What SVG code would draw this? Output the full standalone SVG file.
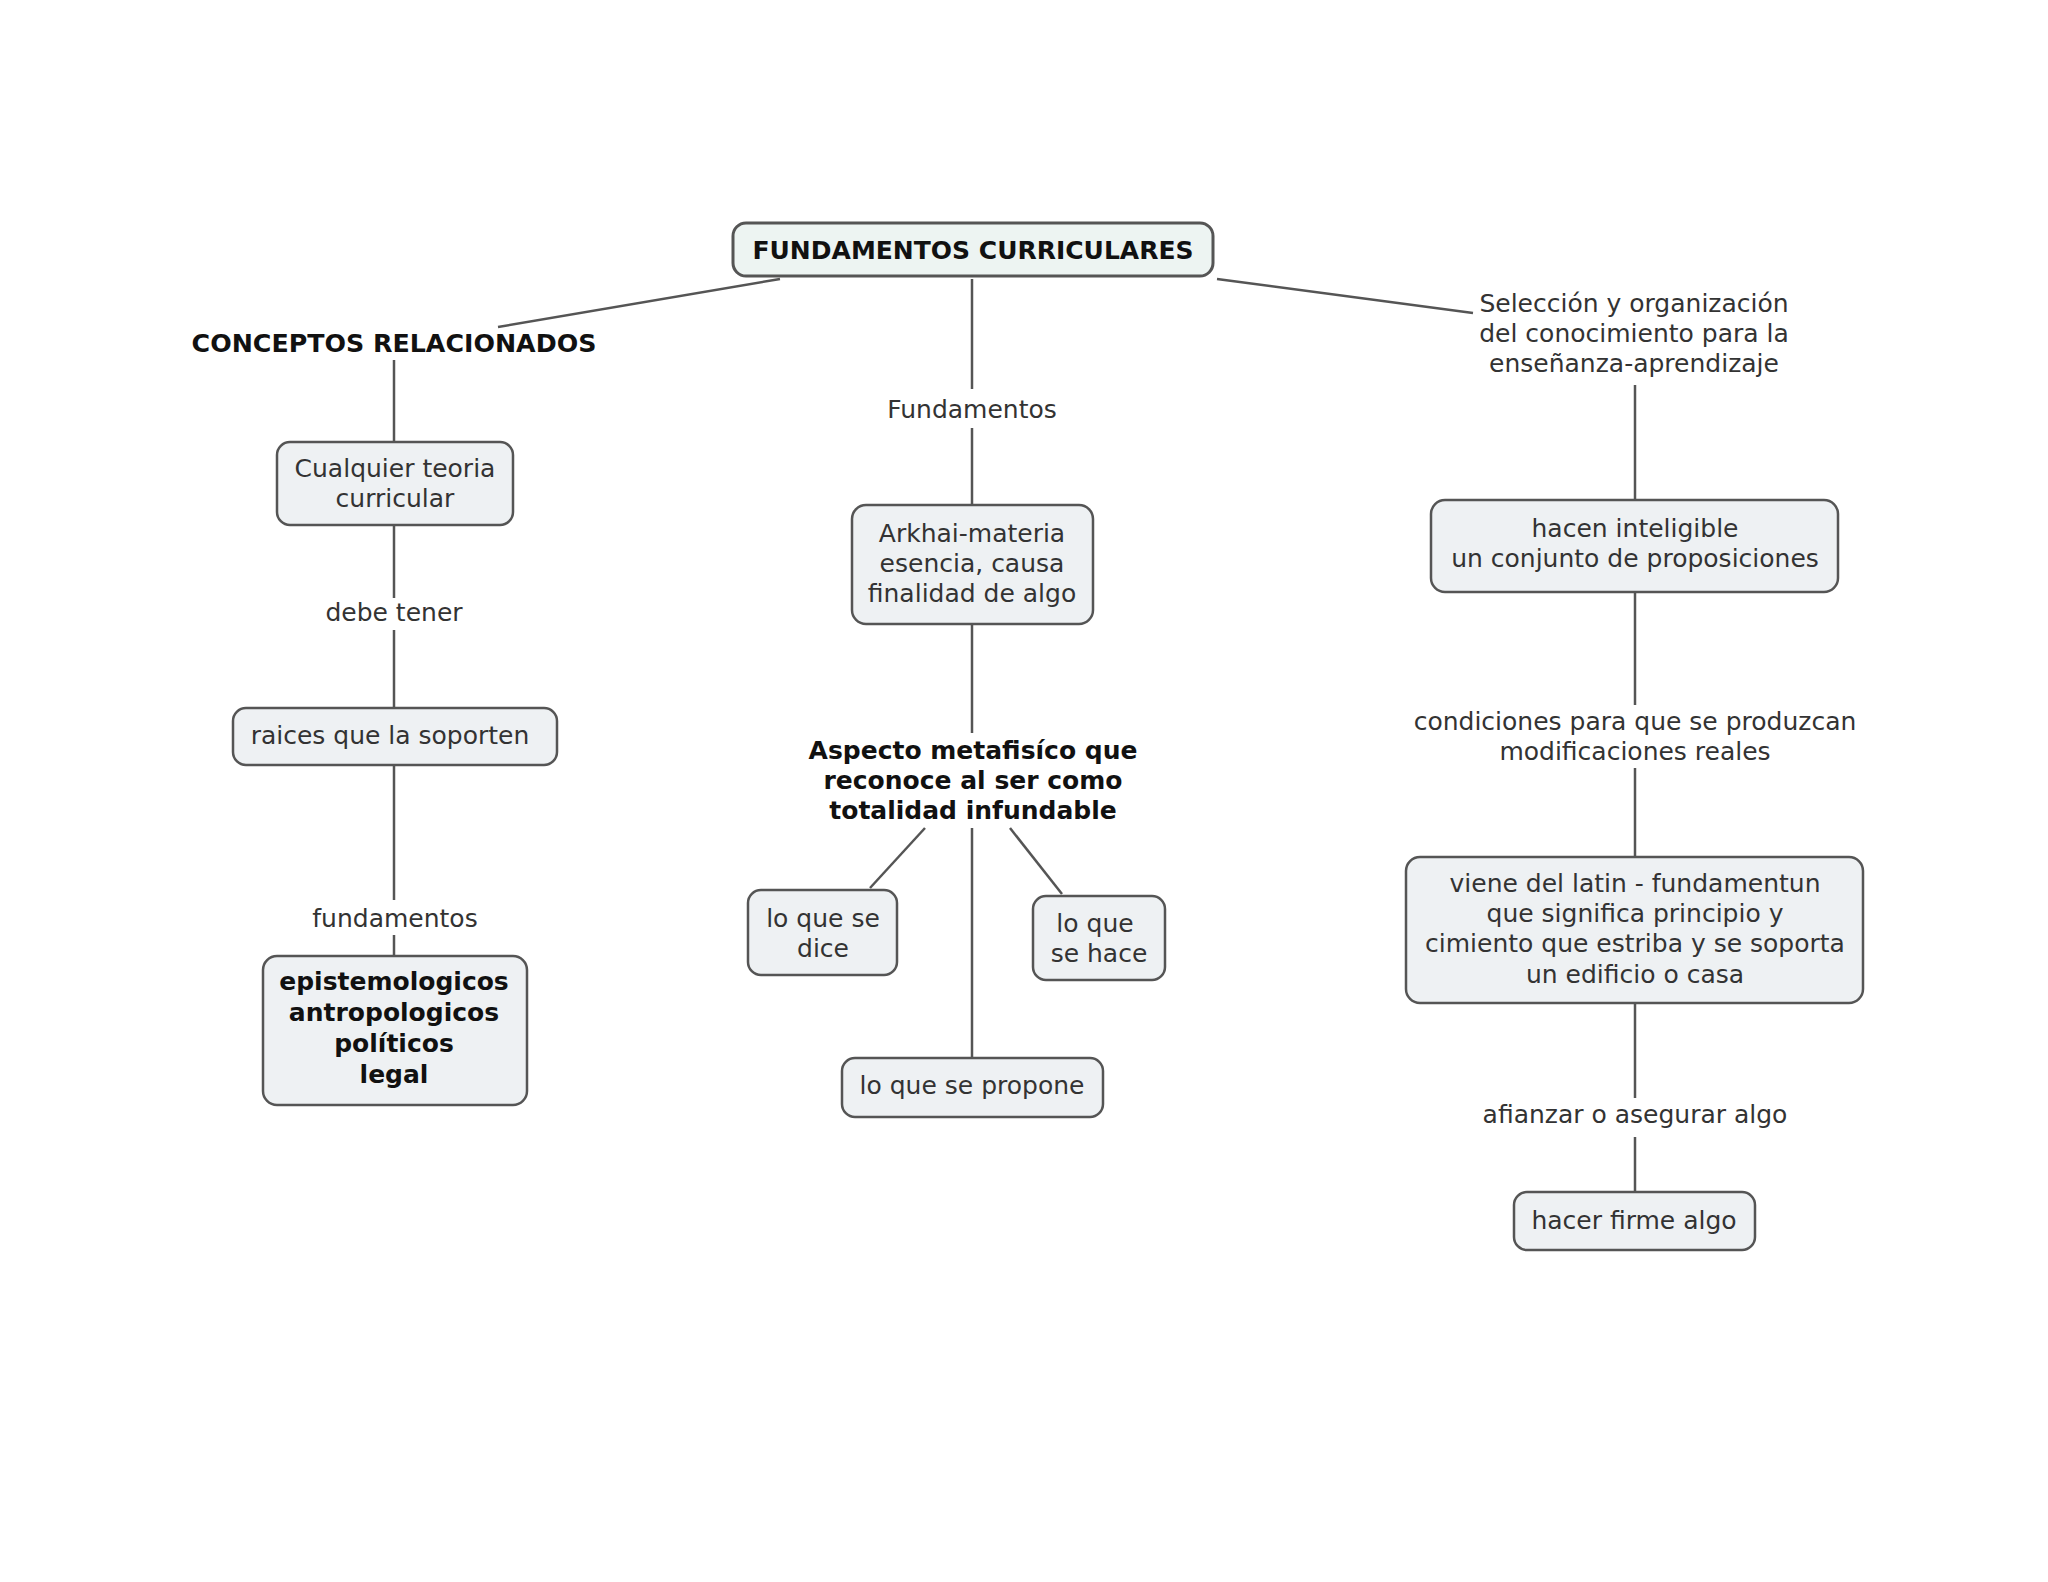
<svg xmlns="http://www.w3.org/2000/svg" width="2048" height="1582" viewBox="0 0 2048 1582">
<style>
.box{fill:#eef1f3;stroke:#555;stroke-width:2.5}
.root{fill:#edf4f2;stroke:#555;stroke-width:3}
.t{font-family:"DejaVu Sans",Verdana,sans-serif;font-size:25px;fill:#333;text-anchor:middle}
.b{font-family:"DejaVu Sans",Verdana,sans-serif;font-size:25px;font-weight:bold;fill:#111;text-anchor:middle}
.c line{stroke:#555;stroke-width:2.5}
</style>
<rect width="2048" height="1582" fill="#fff"/>
<g class="c" id="connectors">
<line x1="780" y1="279" x2="498" y2="327"/>
<line x1="972" y1="279" x2="972" y2="389"/>
<line x1="972" y1="428" x2="972" y2="505"/>
<line x1="1217" y1="279" x2="1473" y2="313"/>
<line x1="394" y1="360" x2="394" y2="442"/>
<line x1="394" y1="525" x2="394" y2="598"/>
<line x1="394" y1="630" x2="394" y2="708"/>
<line x1="394" y1="765" x2="394" y2="900"/>
<line x1="394" y1="935" x2="394" y2="956"/>
<line x1="972" y1="624" x2="972" y2="733"/>
<line x1="925" y1="828" x2="870" y2="888"/>
<line x1="972" y1="828" x2="972" y2="1058"/>
<line x1="1010" y1="828" x2="1062" y2="894"/>
<line x1="1635" y1="385" x2="1635" y2="500"/>
<line x1="1635" y1="592" x2="1635" y2="705"/>
<line x1="1635" y1="768" x2="1635" y2="857"/>
<line x1="1635" y1="1003" x2="1635" y2="1098"/>
<line x1="1635" y1="1137" x2="1635" y2="1192"/>
</g>
<g id="root"><rect class="root" x="733" y="223" width="480" height="53" rx="13"/><text class="b" x="973" y="259">FUNDAMENTOS CURRICULARES</text></g>
<g id="conceptos"><text class="b" x="394" y="352" style="font-size:25.3px">CONCEPTOS RELACIONADOS</text></g>
<g id="cualquier"><rect class="box" x="277" y="442" width="236" height="83" rx="13"/><text class="t" x="395" y="477">Cualquier teoria</text><text class="t" x="395" y="507">curricular</text></g>
<g id="lbl-debe"><text class="t" x="394" y="621">debe tener</text></g>
<g id="raices"><rect class="box" x="233" y="708" width="324" height="57" rx="13"/><text class="t" x="390" y="744">raices que la soporten</text></g>
<g id="lbl-fund"><text class="t" x="395" y="927">fundamentos</text></g>
<g id="episte"><rect class="box" x="263" y="956" width="264" height="149" rx="14"/><text class="b" x="394" y="990">epistemologicos</text><text class="b" x="394" y="1021">antropologicos</text><text class="b" x="394" y="1052">políticos</text><text class="b" x="394" y="1083">legal</text></g>
<g id="lbl-fundamentos"><text class="t" x="972" y="418">Fundamentos</text></g>
<g id="arkhai"><rect class="box" x="852" y="505" width="241" height="119" rx="14"/><text class="t" x="972" y="542">Arkhai-materia</text><text class="t" x="972" y="572">esencia, causa</text><text class="t" x="972" y="602">finalidad de algo</text></g>
<g id="aspecto"><text class="b" x="973" y="759">Aspecto metafisíco que</text><text class="b" x="973" y="789">reconoce al ser como</text><text class="b" x="973" y="819">totalidad infundable</text></g>
<g id="dice"><rect class="box" x="748" y="890" width="149" height="85" rx="13"/><text class="t" x="823" y="927">lo que se</text><text class="t" x="823" y="957">dice</text></g>
<g id="hace"><rect class="box" x="1033" y="896" width="132" height="84" rx="13"/><text class="t" x="1095" y="932">lo que</text><text class="t" x="1099" y="962">se hace</text></g>
<g id="propone"><rect class="box" x="842" y="1058" width="261" height="59" rx="13"/><text class="t" x="972" y="1094">lo que se propone</text></g>
<g id="seleccion"><text class="t" x="1634" y="312">Selección y organización</text><text class="t" x="1634" y="342">del conocimiento para la</text><text class="t" x="1634" y="372">enseñanza-aprendizaje</text></g>
<g id="hacen"><rect class="box" x="1431" y="500" width="407" height="92" rx="14"/><text class="t" x="1635" y="537">hacen inteligible</text><text class="t" x="1635" y="567">un conjunto de proposiciones</text></g>
<g id="lbl-condiciones"><text class="t" x="1635" y="730">condiciones para que se produzcan</text><text class="t" x="1635" y="760">modificaciones reales</text></g>
<g id="viene"><rect class="box" x="1406" y="857" width="457" height="146" rx="14"/><text class="t" x="1635" y="892">viene del latin - fundamentun</text><text class="t" x="1635" y="922">que significa principio y</text><text class="t" x="1635" y="952">cimiento que estriba y se soporta</text><text class="t" x="1635" y="983">un edificio o casa</text></g>
<g id="lbl-afianzar"><text class="t" x="1635" y="1123">afianzar o asegurar algo</text></g>
<g id="firme"><rect class="box" x="1514" y="1192" width="241" height="58" rx="13"/><text class="t" x="1634" y="1229">hacer firme algo</text></g>
</svg>
